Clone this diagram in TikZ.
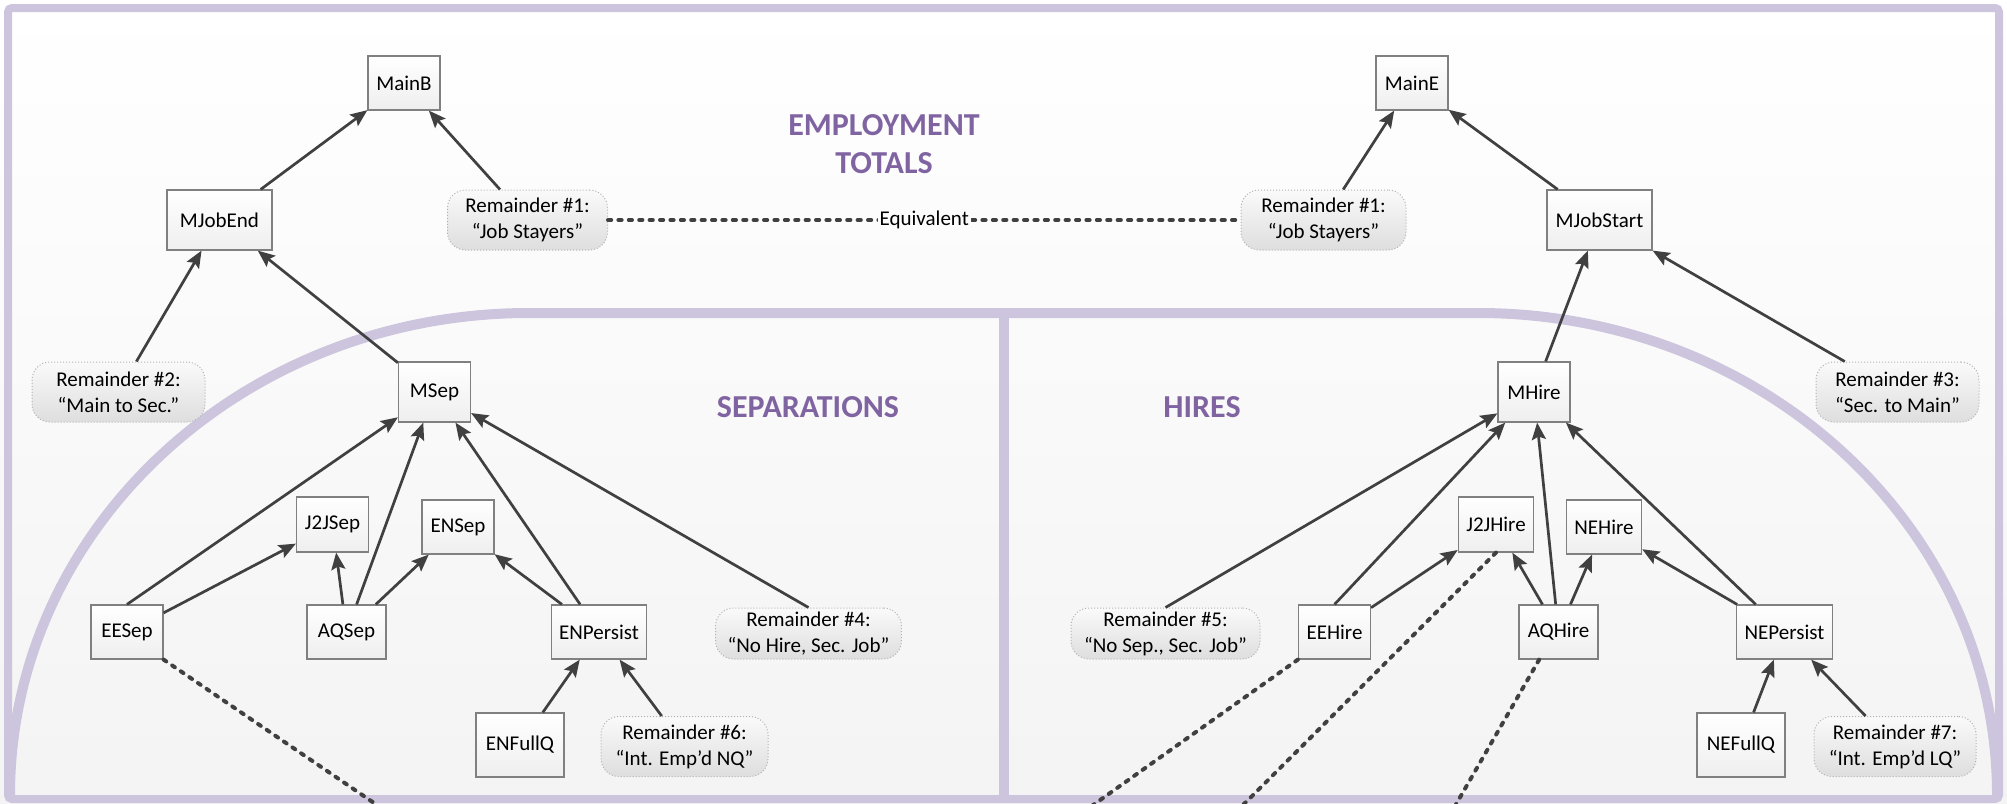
\documentclass[tikz,border=0pt]{standalone}
\usepackage{fontspec}
\setmainfont{Carlito}
\usepackage{xcolor}
\usepackage{tikz}
\usetikzlibrary{arrows.meta, shadings}

\definecolor{lavender}{RGB}{205,196,221}
\definecolor{titlepurple}{RGB}{128,100,162}
\definecolor{darkline}{RGB}{64,64,64}
\definecolor{boxline}{RGB}{128,128,128}
\newcommand{\nodefont}{\fontsize{10.5}{13}\selectfont}

\begin{document}
\begin{tikzpicture}[x=0.5pt, y=-0.5pt,
  box/.style={draw=boxline, line width=0.6pt, top color=white, bottom color=gray!13,
              minimum width=36pt, minimum height=27pt, inner xsep=4pt, font=\nodefont},
  rem/.style={draw=gray!60, densely dotted, line width=0.5pt, rounded corners=9pt,
              top color=gray!4, bottom color=gray!26, minimum width=80pt, minimum height=30pt,
              inner xsep=6pt, inner ysep=1.5pt, align=center, font=\nodefont},
  feed/.style={draw=darkline, line width=1.35pt, -{Stealth[length=8.5pt, width=7pt, inset=1.5pt]}},
  link/.style={draw=darkline, line width=2pt, line cap=round, dash pattern=on 1.6pt off 3.6pt},
  heading/.style={font=\fontsize{16}{19}\selectfont\bfseries, text=titlepurple, align=center}]

  % Frame and background
  \clip (0,0) rectangle (2007,803);
  \fill[top color=white, bottom color=gray!9] (0,0) rectangle (2007,803);
  \draw[lavender, line width=4pt, rounded corners=2pt] (8,8) rectangle (1999,799);

  % Separations / hires boundary
  \draw[lavender, line width=5pt] (10,795)
    arc[start angle=180, end angle=90, x radius=259.5pt, y radius=241pt] -- (1478,313)
    arc[start angle=90, end angle=0, x radius=259.5pt, y radius=241pt];
  \draw[lavender, line width=5pt] (1004,313) -- (1004,803);

  % Headings
  \node[heading] (TitleEmp)  at (884,144)  {EMPLOYMENT\\TOTALS};
  \node[heading] (TitleSep)  at (808,407)  {SEPARATIONS};
  \node[heading] (TitleHire) at (1202,407) {HIRES};

  % Employment totals
  \node[box] (MainB) at (404,83)  {MainB};
  \node[box] (MainE) at (1412,83) {MainE};
  \node[box, minimum width=52.5pt, minimum height=30pt] (MJobEnd)   at (219.5,220)  {MJobEnd};
  \node[box, minimum width=52.5pt, minimum height=30pt] (MJobStart) at (1599.5,220) {MJobStart};
  \node[rem] (RemStayB) at (527.5,220)  {Remainder \#1:\\“Job Stayers”};
  \node[rem, minimum width=82.5pt] (RemStayE) at (1323.5,220) {Remainder \#1:\\“Job Stayers”};
  \node[rem, minimum width=86.5pt] (RemMainSec) at (118.5,392)  {Remainder \#2:\\“Main to Sec.”};
  \node[rem, minimum width=81.5pt] (RemSecMain) at (1897.5,392) {Remainder \#3:\\“Sec. to Main”};

  % Separations
  \node[box, minimum height=30pt]   (MSep)   at (434.5,392) {MSep};
  \node[box, minimum height=27.5pt] (J2JSep) at (332.5,524.5) {J2JSep};
  \node[box] (ENSep) at (458,527) {ENSep};
  \node[box] (EESep) at (127,632) {EESep};
  \node[box, minimum width=39.5pt] (AQSep)     at (346.5,632) {AQSep};
  \node[box, minimum width=47pt]   (ENPersist) at (599,632)   {ENPersist};
  \node[box, minimum width=44pt, minimum height=32pt] (ENFullQ) at (520,745) {ENFullQ};
  \node[rem, minimum width=92.5pt, minimum height=25.5pt] (RemNoHire) at (808.5,633.5) {Remainder \#4:\\“No Hire, Sec. Job”};
  \node[rem, minimum width=83.5pt] (RemIntNQ) at (684.5,746.5) {Remainder \#6:\\“Int. Emp’d NQ”};

  % Hires
  \node[box, minimum height=30pt]   (MHire)   at (1534,392)   {MHire};
  \node[box, minimum height=27.5pt] (J2JHire) at (1496,524.5) {J2JHire};
  \node[box] (NEHire) at (1604,527)   {NEHire};
  \node[box] (EEHire) at (1334.5,632) {EEHire};
  \node[box, minimum width=39.5pt] (AQHire)    at (1558.5,632) {AQHire};
  \node[box, minimum width=47.5pt] (NEPersist) at (1784.5,632) {NEPersist};
  \node[box, minimum width=44pt, minimum height=32pt] (NEFullQ) at (1741,745) {NEFullQ};
  \node[rem, minimum width=94.5pt, minimum height=25.5pt] (RemNoSep) at (1165.5,633.5) {Remainder \#5:\\“No Sep., Sec. Job”};
  \node[rem, minimum width=81pt] (RemIntLQ) at (1895,746.5) {Remainder \#7:\\“Int. Emp’d LQ”};

  % Loose ends below the frame
  \coordinate (EESepOut)  at (399,820);
  \coordinate (EEHireOut) at (1072,820);
  \coordinate (J2JHireOut) at (1228,820);
  \coordinate (AQHireOut) at (1447,820);

  % Equivalence
  \draw[link] (RemStayB) -- node[fill=gray!2, inner sep=1pt, font=\nodefont] (Equiv) {Equivalent} (RemStayE);

  % Beginning-of-quarter tree
  \draw[feed] (MJobEnd) -- (MainB);
  \draw[feed] (RemStayB) -- (MainB);
  \draw[feed] (RemMainSec) -- (MJobEnd);
  \draw[feed] (MSep) -- (MJobEnd);
  \draw[feed] (EESep.north) -- (MSep);
  \draw[feed] (EESep) -- (J2JSep);
  \draw[feed] (AQSep) -- (J2JSep);
  \draw[feed] (AQSep) -- (MSep);
  \draw[feed] (AQSep) -- (ENSep);
  \draw[feed] (ENPersist) -- (ENSep);
  \draw[feed] (ENPersist) -- (MSep);
  \draw[feed] (RemNoHire.north) -- (MSep);
  \draw[feed] (ENFullQ) -- (ENPersist);
  \draw[feed] (RemIntNQ) -- (ENPersist);

  % End-of-quarter tree
  \draw[feed] (RemStayE) -- (MainE);
  \draw[feed] (MJobStart) -- (MainE);
  \draw[feed] (MHire) -- (MJobStart);
  \draw[feed] (RemSecMain) -- (MJobStart);
  \draw[feed] (RemNoSep.north) -- (MHire);
  \draw[feed] (EEHire.north) -- (MHire);
  \draw[feed] (EEHire) -- (J2JHire);
  \draw[feed] (AQHire) -- (J2JHire);
  \draw[feed] (AQHire) -- (MHire);
  \draw[feed] (AQHire) -- (NEHire);
  \draw[feed] (NEPersist) -- (NEHire);
  \draw[feed] (NEPersist) -- (MHire);
  \draw[feed] (NEFullQ) -- (NEPersist);
  \draw[feed] (RemIntLQ) -- (NEPersist);

  % Links to the flows below
  \draw[link] (EESep.south east) -- (EESepOut);
  \draw[link] (EEHire.south west) -- (EEHireOut);
  \draw[link] (J2JHire.south) -- (J2JHireOut);
  \draw[link] (AQHire.235.6) -- (AQHireOut);
\end{tikzpicture}
\end{document}
